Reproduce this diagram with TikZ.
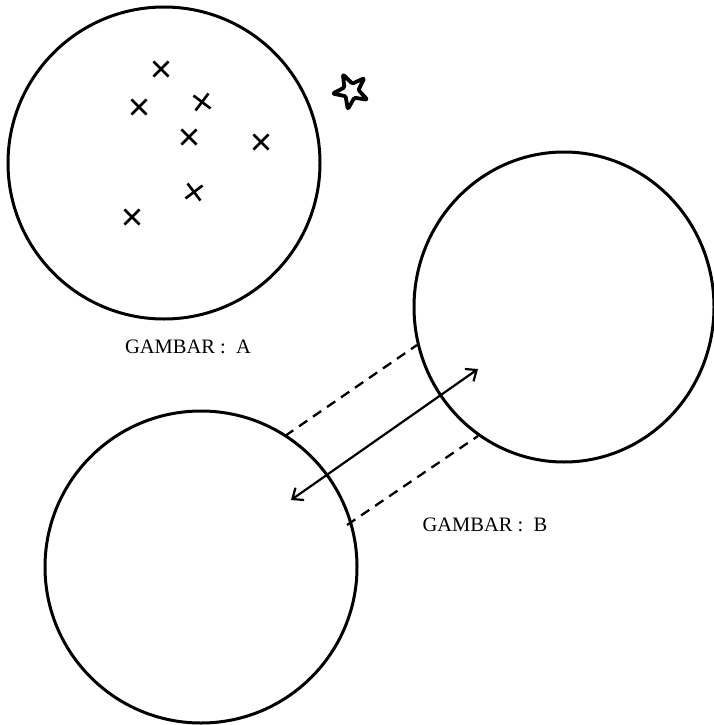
\documentclass[tikz,border=0pt]{standalone}
\usepackage{fontspec}
\setmainfont{Liberation Serif}
\usetikzlibrary{shapes.geometric,shapes.misc,arrows.meta}
\begin{document}
\begin{tikzpicture}[x=1pt,y=-1pt,
  ring/.style={draw, circle, line width=3pt, inner sep=0pt, minimum size=#1},
  mark x/.style={draw, cross out, line width=2.6pt, inner sep=0pt, minimum size=12.5pt},
  caption/.style={font=\fontsize{20.5}{24}\selectfont, inner sep=0pt},
  guide/.style={dashed, dash pattern=on 10pt off 7pt, line width=2.3pt},
  link/.style={line width=2.2pt, {Straight Barb[length=9pt,width=15pt,line width=2.2pt]}-{Straight Barb[length=9pt,width=15pt,line width=2.2pt]}}
]
\useasboundingbox (0,0) rectangle (714,725);

% set A with its elements
\node[ring=312pt] (setA) at (164,163) {};
\node[mark x] (x1) at (161,69) {};
\node[mark x] (x2) at (139,107) {};
\node[mark x, rotate=8] (x3) at (202,102) {};
\node[mark x] (x4) at (189,137) {};
\node[mark x] (x5) at (261,142) {};
\node[mark x, rotate=-8] (x6) at (194,192) {};
\node[mark x] (x7) at (132,217) {};

% star outside the set
\draw[line width=3.8pt, line join=round, rounded corners=1.2pt]
  (351,91) +(100:18.5) -- +(136:7.5) -- +(172:18.5) -- +(208:7.5) -- +(244:18.5)
  -- +(280:7.5) -- +(316:18.5) -- +(352:7.5) -- +(28:18.5) -- +(64:7.5) -- cycle;

\node[caption] (capA) at (188,347) {GAMBAR :\ \ A};

% the two sets of picture B
\node[draw, ellipse, line width=3pt, inner sep=0pt, minimum width=300pt, minimum height=310pt] (setB) at (564,307) {};
\node[ring=312pt] (setC) at (201,567) {};

\coordinate (c1) at (285,436);
\coordinate (b1) at (417,345);
\coordinate (c2) at (347,525);
\coordinate (b2) at (478,436);
\draw[guide] (c1) -- (b1);
\draw[guide] (c2) -- (b2);

\coordinate (pc) at (291,500);
\coordinate (pb) at (478,369);
\draw[link] (pc) -- (pb);

\node[caption] (capB) at (485,525) {GAMBAR :\ \ B};
\end{tikzpicture}
\end{document}
